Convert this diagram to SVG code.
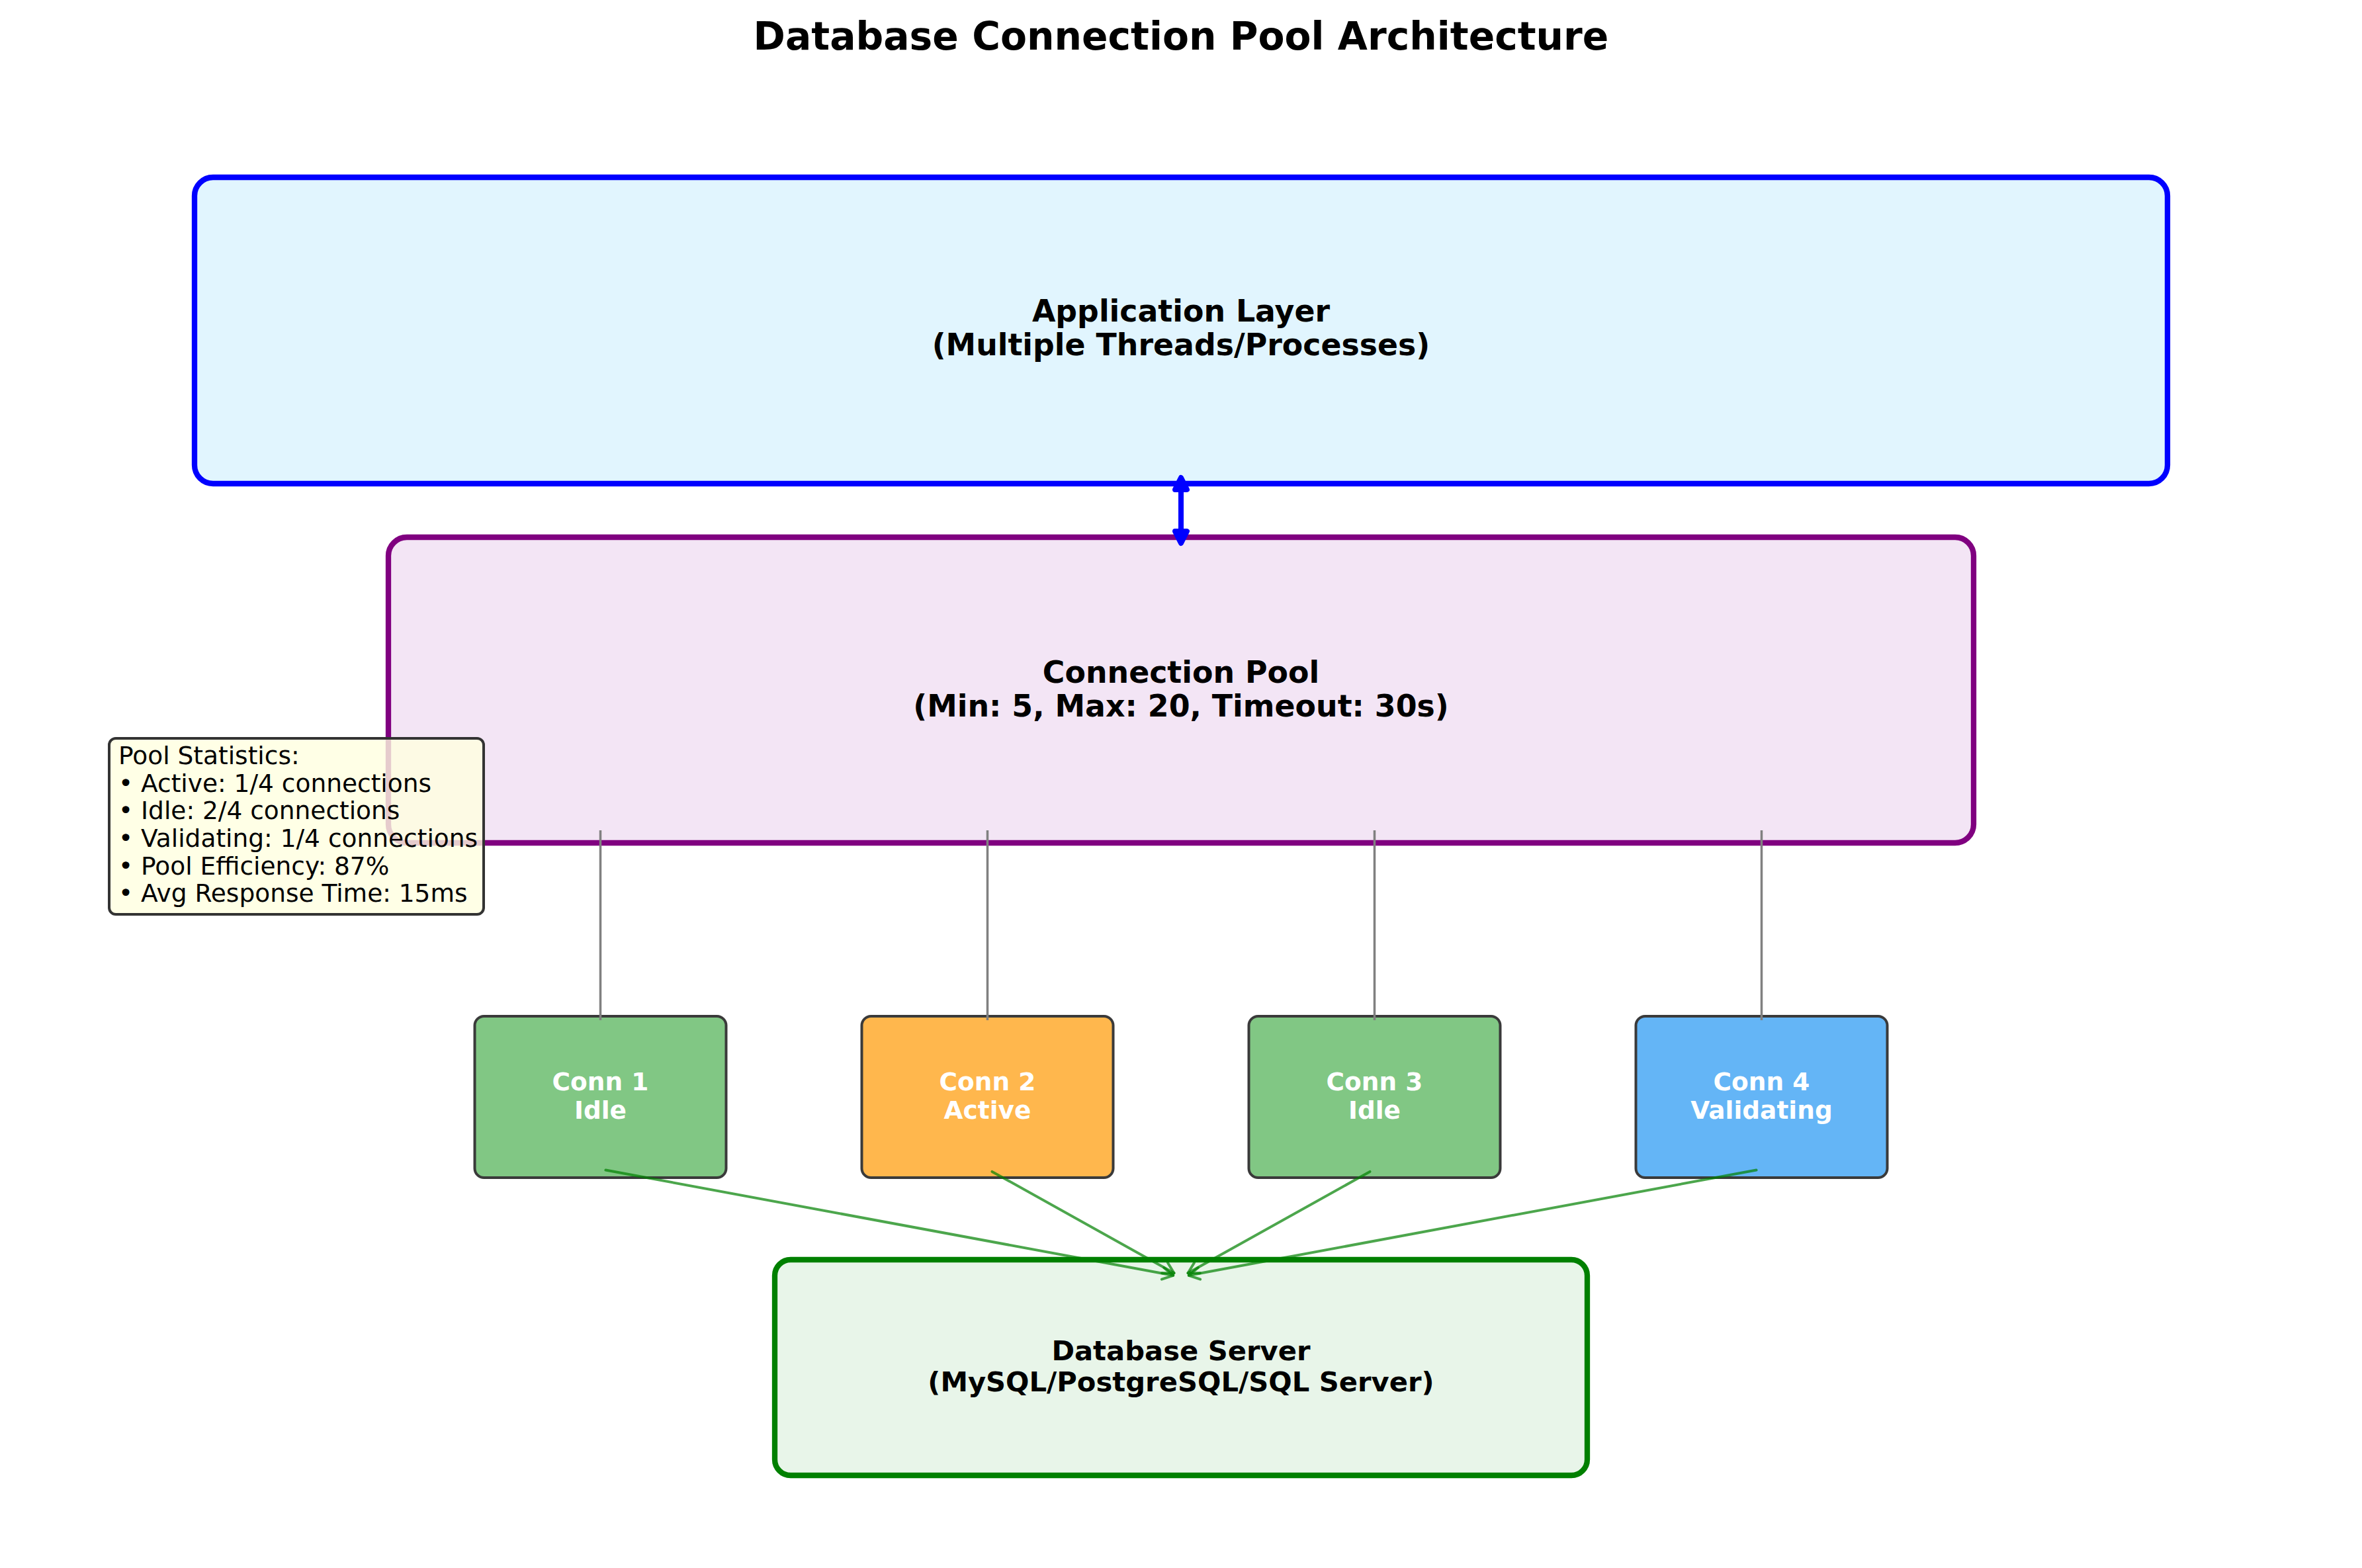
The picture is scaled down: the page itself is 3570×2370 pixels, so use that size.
<svg xmlns="http://www.w3.org/2000/svg" width="3570" height="2370" viewBox="0 0 3570 2370">
<style>
text{font-family:"DejaVu Sans","Liberation Sans",sans-serif}
.b{font-weight:bold}
.big{font-size:45.8px;fill:#000;text-anchor:middle}
.dbt{font-size:41.7px;fill:#000;text-anchor:middle}
.cn{font-size:37.5px;fill:#fff;text-anchor:middle;font-weight:bold}
.st{font-size:37.5px;fill:#000}
.conn{stroke:#3a3a3a;stroke-width:4}
.gl{stroke:#808080;stroke-width:3.5;fill:none}
.gr{stroke:#008000;stroke-opacity:0.7;stroke-width:4;fill:none;stroke-linecap:round}
</style>
<defs>
<marker id="ah" markerUnits="userSpaceOnUse" viewBox="-22 -14 26 28" refX="0" refY="0" markerWidth="26" markerHeight="28" orient="auto" overflow="visible">
<path d="M-16,-9 L0,0 L-16,9" fill="none" stroke="#008000" stroke-opacity="0.7" stroke-width="4" stroke-linecap="round" stroke-linejoin="round"/>
</marker>
</defs>
<rect width="3570" height="2370" fill="#fff"/>
<text class="b" x="1785" y="75" font-size="58.3" text-anchor="middle">Database Connection Pool Architecture</text>
<g id="app">
<rect x="294" y="268" width="2982" height="463" rx="28" fill="#E1F5FE" stroke="#0000FF" stroke-width="8.3"/>
<text class="big b" x="1785" y="486">Application Layer</text>
<text class="big b" x="1785" y="537">(Multiple Threads/Processes)</text>
</g>
<g id="pool">
<rect x="587" y="812" width="2396" height="462" rx="28" fill="#F3E5F5" stroke="#800080" stroke-width="8.3"/>
<text class="big b" x="1785" y="1032">Connection Pool</text>
<text class="big b" x="1785" y="1083">(Min: 5, Max: 20, Timeout: 30s)</text>
</g>
<g id="conn1">
<rect class="conn" x="717.5" y="1536" width="380" height="244" rx="14" fill="#81C784"/>
<text class="cn" x="907.5" y="1648">Conn 1</text>
<text class="cn" x="907.5" y="1691">Idle</text>
</g>
<g id="conn2">
<rect class="conn" x="1302.5" y="1536" width="380" height="244" rx="14" fill="#FFB74D"/>
<text class="cn" x="1492.5" y="1648">Conn 2</text>
<text class="cn" x="1492.5" y="1691">Active</text>
</g>
<g id="conn3">
<rect class="conn" x="1887.5" y="1536" width="380" height="244" rx="14" fill="#81C784"/>
<text class="cn" x="2077.5" y="1648">Conn 3</text>
<text class="cn" x="2077.5" y="1691">Idle</text>
</g>
<g id="conn4">
<rect class="conn" x="2472.5" y="1536" width="380" height="244" rx="14" fill="#64B5F6"/>
<text class="cn" x="2662.5" y="1648">Conn 4</text>
<text class="cn" x="2662.5" y="1691">Validating</text>
</g>
<g id="db">
<rect x="1171" y="1904" width="1228" height="326" rx="24" fill="#E8F5E9" stroke="#008000" stroke-width="8.3"/>
<text class="dbt b" x="1785" y="2056">Database Server</text>
<text class="dbt b" x="1785" y="2103">(MySQL/PostgreSQL/SQL Server)</text>
</g>
<g id="connectors">
<path d="M1785,726 L1785,817" stroke="#0000FF" stroke-width="8" stroke-linecap="round" fill="none"/>
<path d="M1776,740 L1785,722 L1794,740 Z" stroke="#0000FF" stroke-width="8" stroke-linecap="round" stroke-linejoin="round" fill="#0000FF"/>
<path d="M1776,803 L1785,821 L1794,803 Z" stroke="#0000FF" stroke-width="8" stroke-linecap="round" stroke-linejoin="round" fill="#0000FF"/>
<line class="gl" x1="907.5" y1="1255" x2="907.5" y2="1542"/>
<line class="gl" x1="1492.5" y1="1255" x2="1492.5" y2="1542"/>
<line class="gl" x1="2077.5" y1="1255" x2="2077.5" y2="1542"/>
<line class="gl" x1="2662.5" y1="1255" x2="2662.5" y2="1542"/>
<line class="gr" x1="915.4" y1="1768.5" x2="1773.2" y2="1927.8" marker-end="url(#ah)"/>
<line class="gr" x1="1499.5" y1="1770.9" x2="1774.5" y2="1924.2" marker-end="url(#ah)"/>
<line class="gr" x1="2070.5" y1="1770.9" x2="1795.5" y2="1924.2" marker-end="url(#ah)"/>
<line class="gr" x1="2654.6" y1="1768.5" x2="1796.8" y2="1927.8" marker-end="url(#ah)"/>
</g>
<g id="stats">
<rect x="165" y="1116" width="566" height="266" rx="10" fill="#FFFFE0" fill-opacity="0.8" stroke="#333333" stroke-width="4"/>
<text class="st" x="179" y="1155">Pool Statistics:</text>
<text class="st" x="179" y="1197">• Active: 1/4 connections</text>
<text class="st" x="179" y="1238">• Idle: 2/4 connections</text>
<text class="st" x="179" y="1280">• Validating: 1/4 connections</text>
<text class="st" x="179" y="1322">• Pool Efficiency: 87%</text>
<text class="st" x="179" y="1363">• Avg Response Time: 15ms</text>
</g>
</svg>
